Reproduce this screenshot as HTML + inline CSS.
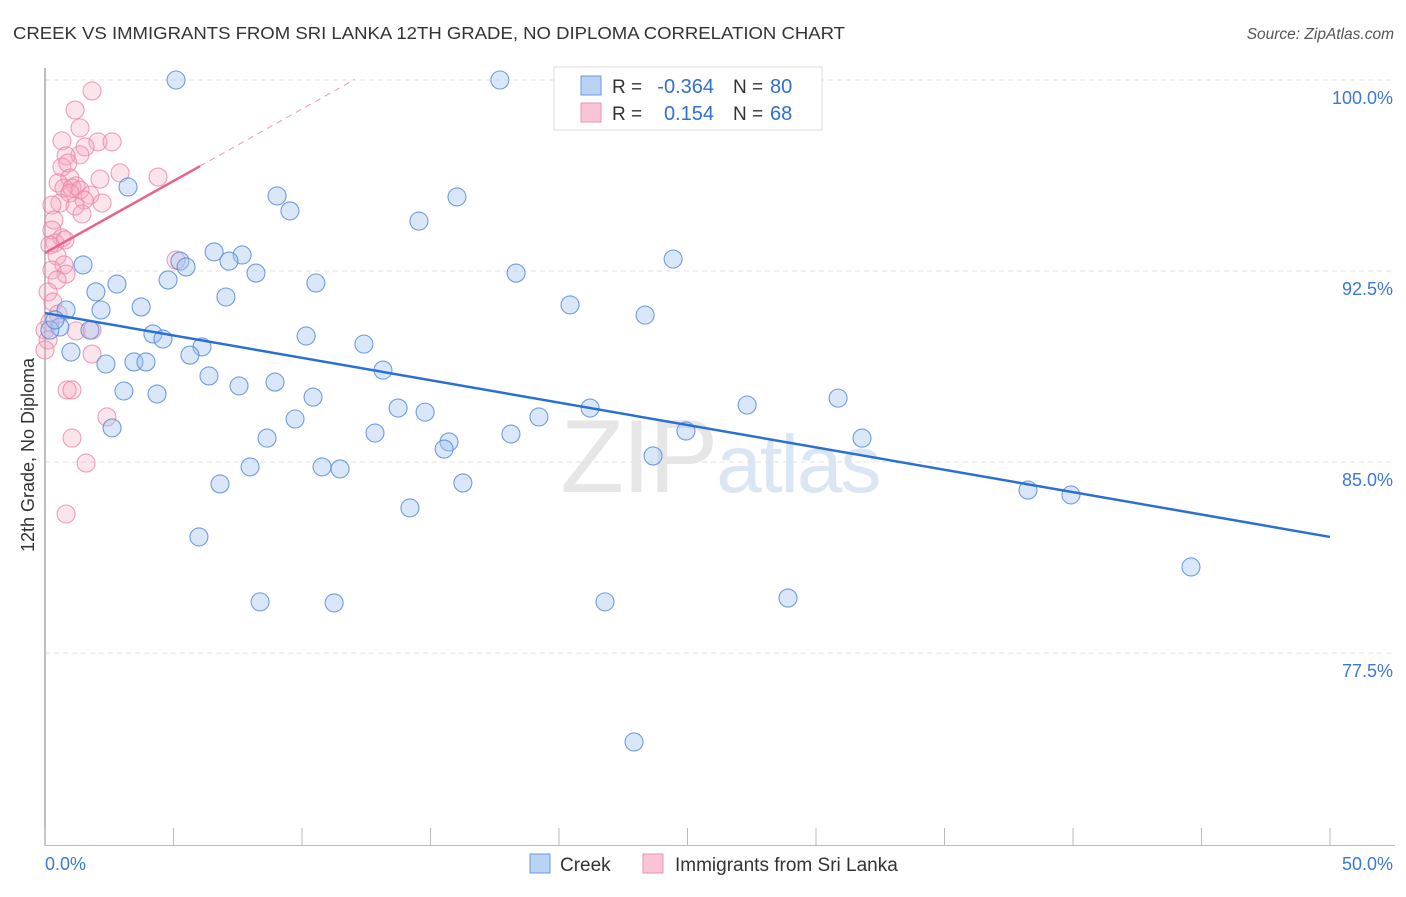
<!DOCTYPE html>
<html><head><meta charset="utf-8"><style>
body{margin:0;background:#fff;font-family:"Liberation Sans",sans-serif}
svg text{font-family:"Liberation Sans",sans-serif}
</style></head><body>
<svg id="chart" width="1406" height="892" xmlns="http://www.w3.org/2000/svg">
<text x="13" y="39" font-size="17.5" fill="#333" textLength="832" lengthAdjust="spacingAndGlyphs">CREEK VS IMMIGRANTS FROM SRI LANKA 12TH GRADE, NO DIPLOMA CORRELATION CHART</text>
<text x="1394" y="39" font-size="15.5" fill="#555" text-anchor="end" font-style="italic">Source: ZipAtlas.com</text>
<text x="720" y="492" font-size="104" text-anchor="middle" fill="#e6e6e6" font-family="Liberation Serif" letter-spacing="-2">ZIP<tspan fill="#dbe6f5" font-family="Liberation Sans" font-size="82">atlas</tspan></text>
<g id="grid"></g>
<line x1="45" y1="68" x2="45" y2="846" stroke="#aaa" stroke-width="1.5"/>
<line x1="45" y1="845.5" x2="1395" y2="845.5" stroke="#bbb" stroke-width="1"/>
<g id="xticks"></g>
<text transform="translate(34,455) rotate(-90)" font-size="18" fill="#333" text-anchor="middle">12th Grade, No Diploma</text>
<text x="45" y="870" font-size="18" fill="#3b78d8">0.0%</text>
<text x="1393" y="870" font-size="18" fill="#3b78d8" text-anchor="end">50.0%</text>
<g id="pink"></g>
<g id="blue"></g>
<g id="lines"></g>
<g>
<rect x="554" y="67" width="268" height="63" fill="#fff" stroke="#ddd"/>
<rect x="581" y="76" width="20" height="19" fill="#b9d3f5" stroke="#6a9ae0"/>
<rect x="581" y="103" width="20" height="19" fill="#f9c4d5" stroke="#eb94b1"/>
<text x="612" y="93" font-size="19" fill="#333">R =</text>
<text x="714" y="93" font-size="20" fill="#2f6fd6" text-anchor="end">-0.364</text>
<text x="733" y="93" font-size="19" fill="#333">N =</text>
<text x="770" y="93" font-size="20" fill="#2f6fd6">80</text>
<text x="612" y="120" font-size="19" fill="#333">R =</text>
<text x="714" y="120" font-size="20" fill="#2f6fd6" text-anchor="end">0.154</text>
<text x="733" y="120" font-size="19" fill="#333">N =</text>
<text x="770" y="120" font-size="20" fill="#2f6fd6">68</text>
</g>
<g>
<rect x="530" y="854" width="20" height="19" fill="#b9d3f5" stroke="#6a9ae0"/>
<text x="560" y="871" font-size="19" fill="#333">Creek</text>
<rect x="643" y="854" width="20" height="19" fill="#f9c4d5" stroke="#eb94b1"/>
<text x="675" y="871" font-size="19" fill="#333">Immigrants from Sri Lanka</text>
</g>
</svg>
<script>
const yTicks=[100,92.5,85,77.5];
const yTickLabels=["100.0%","92.5%","85.0%","77.5%"];
const xTicks=[0,5,10,15,20,25,30,35,40,45,50];
const creekX=[5.10,17.70,3.23,9.03,9.53,16.03,14.55,6.58,7.67,7.16,5.25,5.49,1.48,24.44,18.33,8.21,4.79,2.80,10.54,1.98,7.04,3.74,20.43,2.18,0.82,23.35,0.58,1.75,4.20,10.16,4.59,12.41,6.11,5.64,1.01,3.46,3.93,2.37,13.15,6.38,8.95,7.55,3.07,4.36,10.43,13.74,14.79,21.21,27.32,30.86,9.73,19.22,2.61,24.94,12.84,18.13,8.64,31.79,15.72,15.53,23.66,10.78,11.48,7.98,6.81,16.26,38.25,39.92,14.20,5.99,44.59,8.37,11.25,21.79,28.91,22.92,0.19,0.39];
const creekY=[100.0,100.0,95.80,95.45,94.86,95.41,94.46,93.25,93.13,92.89,92.89,92.66,92.74,92.97,92.42,92.42,92.15,91.99,92.03,91.68,91.48,91.09,91.17,90.97,90.97,90.77,90.30,90.18,90.03,89.95,89.83,89.63,89.52,89.20,89.32,88.93,88.93,88.85,88.61,88.38,88.14,87.99,87.79,87.67,87.55,87.12,86.96,87.12,87.24,87.51,86.69,86.77,86.34,86.22,86.14,86.10,85.94,85.94,85.79,85.51,85.24,84.81,84.73,84.81,84.14,84.18,83.90,83.71,83.20,82.06,80.88,79.51,79.47,79.51,79.66,74.01,90.18,90.58];
const lankaX=[1.83,1.17,1.36,0.66,2.06,2.61,1.56,1.36,0.82,2.92,4.40,0.66,0.89,0.97,2.14,0.51,1.21,0.74,1.05,1.36,0.97,1.75,1.52,2.22,0.58,0.27,1.17,1.44,0.35,0.27,0.66,0.39,0.78,0.19,0.47,0.74,0.27,0.82,0.47,0.12,0.31,0.51,0.19,0.0,0.12,1.21,1.83,0.0,1.83,5.10,0.86,1.05,2.41,1.05,1.60,0.82];
const lankaY=[99.57,98.82,98.12,97.61,97.57,97.57,97.37,97.06,97.02,96.35,96.19,96.58,96.74,96.15,96.11,95.96,95.84,95.76,95.76,95.68,95.56,95.48,95.29,95.17,95.17,95.09,95.05,94.74,94.50,94.11,93.80,93.60,93.72,93.52,93.09,92.74,92.54,92.38,92.15,91.68,91.28,90.81,90.50,90.18,89.79,90.15,90.18,89.40,89.24,92.93,87.83,87.83,86.77,85.94,84.96,82.96];
const creekFit=[90.85,82.06];
const lankaFit=[93.21,0.565];
const NS="http://www.w3.org/2000/svg";
const X=v=>45+v*25.7;
const Y=v=>80+(100-v)*25.47;
function mk(tag,attrs,parent){const e=document.createElementNS(NS,tag);for(const k in attrs)e.setAttribute(k,attrs[k]);document.getElementById(parent).appendChild(e);return e;}
yTicks.forEach((t,i)=>{
 const l=mk('line',{x1:45,x2:1395,y1:Y(t),y2:Y(t),stroke:'#e2e2e2','stroke-dasharray':'5,4'},'grid');
 
 
 const tx=mk('text',{x:1393,y:Y(t)+24,'font-size':18,fill:'#3b78d8','text-anchor':'end'},'grid');
 tx.textContent=yTickLabels[i];
 
 
});
xTicks.forEach(t=>{
 const l=mk('line',{x1:X(t),x2:X(t),y1:828,y2:846,stroke:'#bbb'},'xticks');
 
 
});
lankaX.forEach((v,i)=>{
 const c=mk('circle',{cx:X(v),cy:Y(lankaY[i]),r:9,fill:'rgba(245,165,190,0.3)',stroke:'rgba(232,130,165,0.75)','stroke-width':1.1},'pink');
 
 
});
creekX.forEach((v,i)=>{
 const c=mk('circle',{cx:X(v),cy:Y(creekY[i]),r:9,fill:'rgba(160,195,240,0.4)',stroke:'rgba(80,135,215,0.8)','stroke-width':1.1},'blue');
 
 
});
const bl=mk('line',{x1:X(0),y1:Y(creekFit[0]),x2:X(50),y2:Y(creekFit[1]),stroke:'#2a6fd6','stroke-width':2.5},'lines');


const pl=mk('line',{x1:X(0),y1:Y(lankaFit[0]),x2:X(6.03),y2:Y(lankaFit[0]+lankaFit[1]*6.03),stroke:'#e8628a','stroke-width':2.5},'lines');


const pd=mk('line',{x1:X(6.03),y1:Y(lankaFit[0]+lankaFit[1]*6.03),x2:X(12.06),y2:Y(lankaFit[0]+lankaFit[1]*12.06),stroke:'#eb9ab4','stroke-width':1,'stroke-dasharray':'6,5'},'lines');


</script>
</body></html>
